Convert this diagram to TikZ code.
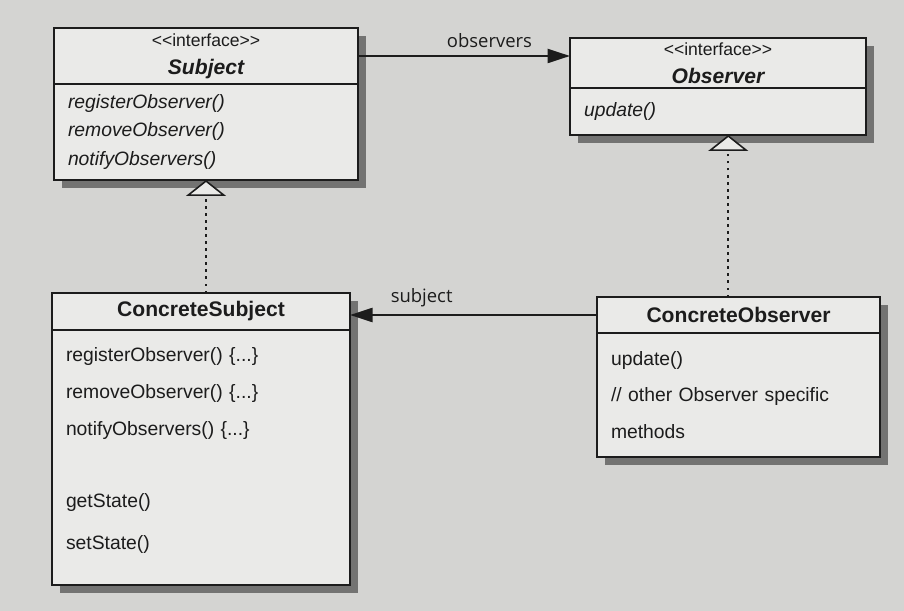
\documentclass[tikz,border=0pt]{standalone}
\usepackage{fontspec}
\setmainfont{Liberation Sans}
\newfontfamily\labelfont{Open Sans}
\usetikzlibrary{arrows.meta, positioning, shadows, calc}
\definecolor{paper}{RGB}{212,212,210}
\definecolor{boxfill}{RGB}{234,234,232}
\definecolor{ink}{RGB}{28,28,28}

\begin{document}
\begin{tikzpicture}[
  font=\fontsize{11}{16}\selectfont, text=ink,
  classhead/.style={draw=ink, fill=boxfill, line width=0.9pt, outer sep=0pt, inner sep=2pt, align=center,
    drop shadow={shadow xshift=4.5pt, shadow yshift=-4.5pt, opacity=0.6, fill=black!80}},
  classbody/.style={classhead, align=left, inner xsep=0.28cm},
  assoc/.style={-{Triangle[length=4.5mm, width=2.8mm]}, draw=ink, line width=1.3pt},
  realize/.style={-{Triangle[length=3.2mm, width=8mm, fill=boxfill, line width=0.9pt]}, draw=ink,
    line width=1.4pt, dash pattern=on 1.4pt off 2.6pt},
  lbl/.style={font=\labelfont\fontsize{10.5}{12}\selectfont, text=ink, inner sep=1pt}
]
\useasboundingbox (0,0) rectangle (18.08,-12.22);
\fill[paper] (0,0) rectangle (18.08,-12.22);

% interfaces
\node[classhead, anchor=north west, minimum width=6.08cm, minimum height=1.12cm] (subjhead) at (1.08,-0.56)
  {{\fontsize{10}{13}\selectfont <{}<interface>{}>}\\ {\fontsize{12}{15}\selectfont\bfseries\itshape Subject}};
\node[classbody, below=0pt of subjhead, text width=5.52cm, minimum height=1.92cm] (subjbody)
  {\itshape registerObserver()\\ removeObserver()\\ notifyObservers()};
\node[classhead, anchor=north west, minimum width=5.92cm, minimum height=1cm] (obshead) at (11.4,-0.76)
  {{\fontsize{10}{12}\selectfont <{}<interface>{}>}\\ {\fontsize{12}{14}\selectfont\bfseries\itshape Observer}};
\node[classbody, below=0pt of obshead, text width=5.36cm, minimum height=0.94cm] (obsbody)
  {\itshape update()};

% concrete classes
\node[classhead, anchor=north west, minimum width=5.96cm, minimum height=0.74cm,
  font=\fontsize{12}{14}\selectfont\bfseries] (csubhead) at (1.04,-5.86) {ConcreteSubject};
\node[classbody, below=0pt of csubhead, text width=5.4cm, minimum height=5.1cm,
  font=\fontsize{11}{21}\selectfont] (csubbody)
  {registerObserver() \{...\}\\ removeObserver() \{...\}\\ notifyObservers() \{...\}\\[20pt]
   getState()\\[3pt] setState()\rule[-10pt]{0pt}{10pt}};
\node[classhead, anchor=north west, minimum width=5.66cm, minimum height=0.72cm,
  font=\fontsize{12}{14}\selectfont\bfseries] (cobshead) at (11.94,-5.94) {ConcreteObserver};
\node[classbody, below=0pt of cobshead, text width=5.1cm, minimum height=2.48cm,
  font=\fontsize{11}{21}\selectfont] (cobsbody)
  {update()\\ // other Observer specific\\ methods};

% connectors
\draw[assoc] (subjhead.east) -- node[lbl, pos=0.62, above=3pt] {observers} (subjhead.east -| obshead.west);
\draw[assoc] (cobshead.west) -- node[lbl, pos=0.71, above=3pt] {subject} (cobshead.west -| csubhead.east);
\draw[realize] (csubhead.north -| subjbody.south) -- (subjbody.south);
\coordinate (omid) at ($(obsbody.south)!0.5!(cobshead.north)$);
\draw[realize] (cobshead.north -| omid) -- (obsbody.south -| omid);
\end{tikzpicture}
\end{document}
